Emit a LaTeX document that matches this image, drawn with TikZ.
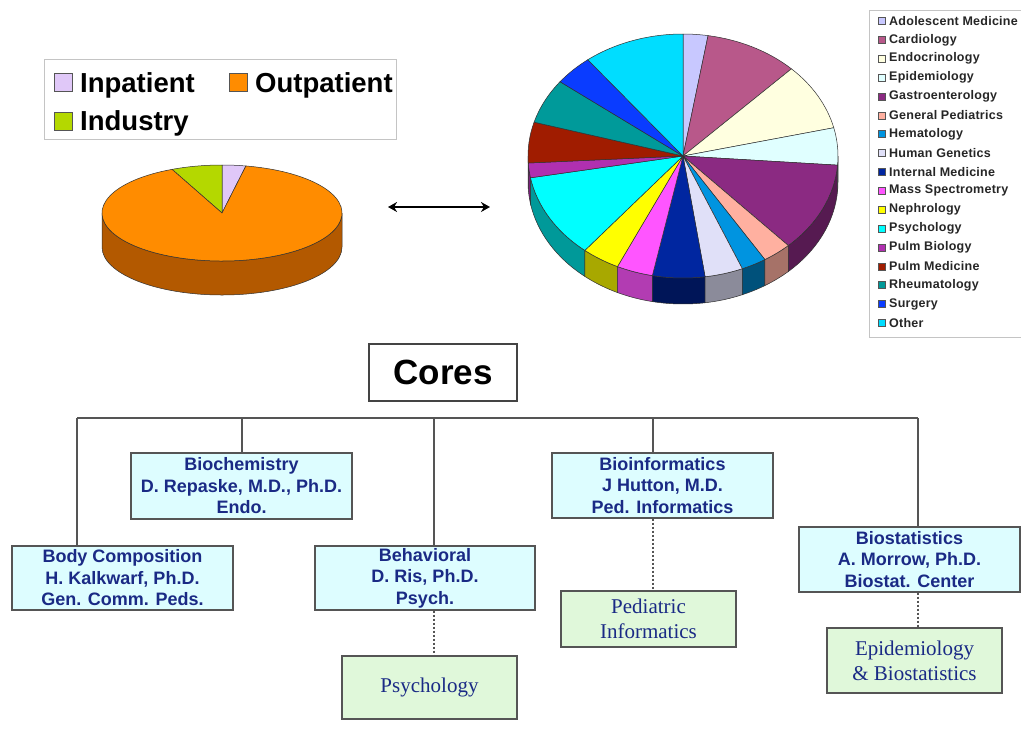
\documentclass[tikz,border=0pt]{standalone}
\usepackage{fontspec}
\setmainfont{Liberation Sans}
\newfontfamily\serf{Liberation Serif}
\newfontfamily\legf[LetterSpace=2]{Liberation Sans}
\usetikzlibrary{arrows.meta}
\definecolor{navy}{HTML}{1A2A85}
\definecolor{boxcyan}{HTML}{DDFDFF}
\definecolor{boxgreen}{HTML}{E0F8DA}
\definecolor{lineg}{HTML}{555555}
\definecolor{legb}{HTML}{C4C4C4}
\definecolor{pieline}{HTML}{303030}
\definecolor{inpat}{HTML}{E0C8F8}
\definecolor{outpat}{HTML}{FF8C00}
\definecolor{outside}{HTML}{B35900}
\definecolor{indus}{HTML}{B4D800}
\definecolor{cAdol}{HTML}{C8C8FF}
\definecolor{cCard}{HTML}{B8588A}
\definecolor{cEndo}{HTML}{FFFFE0}
\definecolor{cEpid}{HTML}{E0FFFF}
\definecolor{cGast}{HTML}{8B2A82}
\definecolor{cGenP}{HTML}{FFB0A0}
\definecolor{cHema}{HTML}{0094E0}
\definecolor{cHumG}{HTML}{E0E0F8}
\definecolor{cInte}{HTML}{0026A0}
\definecolor{cMass}{HTML}{FF55FF}
\definecolor{cNeph}{HTML}{FFFF00}
\definecolor{cPsyc}{HTML}{00FFFF}
\definecolor{cPBio}{HTML}{B030B0}
\definecolor{cPMed}{HTML}{A01C00}
\definecolor{cRheu}{HTML}{009A9A}
\definecolor{cSurg}{HTML}{0A3CFF}
\definecolor{cOthe}{HTML}{00DDFF}
\newcommand{\prx}{155}
\newcommand{\pry}{122}
\newcommand{\pdep}{26}
\newcommand{\slicetop}[3]{%
  \filldraw[fill=#3, draw=pieline, line width=0.5] (0,0) -- (#1:\prx\space and \pry) arc[start angle=#1, end angle=#2, x radius=\prx, y radius=\pry] -- cycle;}
\newcommand{\sliceside}[3]{%
  \filldraw[fill=#3, draw=pieline, line width=0.5] (#1:\prx\space and \pry) arc[start angle=#1, end angle=#2, x radius=\prx, y radius=\pry] -- ++(0,-\pdep) arc[start angle=#2, end angle=#1, x radius=\prx, y radius=\pry] -- cycle;}
\begin{document}
\begin{tikzpicture}[x=1pt,y=-1pt,
  core/.style={draw=lineg, line width=1.2, fill=boxcyan, text=navy, font=\bfseries\fontsize{18}{21.5}\selectfont, align=center, inner sep=0},
  grp/.style={draw=lineg, line width=1.2, fill=boxgreen, text=navy, font=\serf\fontsize{21}{25}\selectfont, align=center, inner sep=0},
  bus/.style={draw=lineg, line width=1.3},
  dots/.style={draw=lineg, line width=1.3, dash pattern=on 2pt off 2pt},
  sq/.style={draw=lineg, line width=0.6, inner sep=0, minimum size=18},
  rsq/.style={draw=lineg, line width=0.5, inner sep=0, minimum size=7},
  bigleg/.style={anchor=base west, inner sep=0, font=\bfseries\fontsize{27.5}{30}\selectfont},
  smallleg/.style={anchor=west, inner sep=0, text=black!85, font=\legf\bfseries\fontsize{12.5}{14}\selectfont}]
\useasboundingbox (0,0) rectangle (1021,729);
\fill[white] (0,0) rectangle (1021,729);

% left legend
\draw[legb, line width=1] (44,59) rectangle (396,139);
\node[sq, fill=inpat] (sqin) at (63,82) {};
\node[bigleg] (tin) at (80,92) {Inpatient};
\node[sq, fill=outpat] (sqout) at (238,82) {};
\node[bigleg] (tout) at (255,92) {Outpatient};
\node[sq, fill=indus] (sqind) at (63,121.5) {};
\node[bigleg] (tind) at (80,130) {Industry};

% left pie
\begin{scope}[shift={(222,213)}, yscale=-1]
  \renewcommand{\prx}{120}\renewcommand{\pry}{48}\renewcommand{\pdep}{34}
  \sliceside{180}{360}{outside}
  \slicetop{78.5}{90}{inpat}
  \slicetop{90}{114.6}{indus}
  \slicetop{114.6}{438.5}{outpat}
\end{scope}

% double arrow
\coordinate (al) at (388,207);
\coordinate (ar) at (490,207);
\draw[{Stealth[length=9pt,width=10pt]}-{Stealth[length=9pt,width=10pt]}, line width=1.5] (al) -- (ar);

% right pie
\begin{scope}[shift={(683,156)}, yscale=-1]
  \sliceside{180}{183.3}{cPMed!70!black}
  \sliceside{183.3}{190.3}{cPBio!70!black}
  \sliceside{190.3}{230.7}{cPsyc!60!black!90!cRheu}
  \sliceside{230.7}{245}{cNeph!66!black}
  \sliceside{245}{258.6}{cMass!70!black}
  \sliceside{258.6}{278.2}{cInte!55!black}
  \sliceside{278.2}{292.5}{cHumG!62!black}
  \sliceside{292.5}{301.9}{cHema!55!black}
  \sliceside{301.9}{312.8}{cGenP!65!black}
  \sliceside{312.8}{355.7}{cGast!62!black}
  \sliceside{355.7}{360}{cEpid!65!black}
  \slicetop{80.7}{90}{cAdol}
  \slicetop{45.6}{80.7}{cCard}
  \slicetop{13.4}{45.6}{cEndo}
  \slicetop{-4.3}{13.4}{cEpid}
  \slicetop{312.8}{355.7}{cGast}
  \slicetop{301.9}{312.8}{cGenP}
  \slicetop{292.5}{301.9}{cHema}
  \slicetop{278.2}{292.5}{cHumG}
  \slicetop{258.6}{278.2}{cInte}
  \slicetop{245}{258.6}{cMass}
  \slicetop{230.7}{245}{cNeph}
  \slicetop{190.3}{230.7}{cPsyc}
  \slicetop{183.3}{190.3}{cPBio}
  \slicetop{163.9}{183.3}{cPMed}
  \slicetop{142.5}{163.9}{cRheu}
  \slicetop{127.9}{142.5}{cSurg}
  \slicetop{90}{127.9}{cOthe}
\end{scope}

% right legend
\draw[legb, line width=1] (1021,10) -- (869,10) -- (869,337) -- (1021,337);
\foreach \col/\txt [count=\i from 0] in {cAdol/Adolescent Medicine, cCard/Cardiology, cEndo/Endocrinology, cEpid/Epidemiology, cGast/Gastroenterology, cGenP/General Pediatrics, cHema/Hematology, cHumG/Human Genetics, cInte/Internal Medicine, cMass/Mass Spectrometry, cNeph/Nephrology, cPsyc/Psychology, cPBio/Pulm Biology, cPMed/Pulm Medicine, cRheu/Rheumatology, cSurg/Surgery, cOthe/Other}{
  \node[rsq, fill=\col] (rs\i) at (881.5,{21+\i*18.87}) {};
  \node[smallleg] (rt\i) at (889,{21+\i*18.87}) {\txt};
}

% cores
\node[draw=lineg!80!black, line width=1.2, fill=white, minimum width=148, minimum height=57, inner sep=0, font=\bfseries\fontsize{35}{40}\selectfont] (cores) at (443,372.5) {Cores};

\node[core, minimum width=221, minimum height=66] (bioc) at (241.5,486) {Biochemistry\\D. Repaske, M.D., Ph.D.\\Endo.};
\node[core, minimum width=221, minimum height=64] (body) at (122.5,578) {Body Composition\\H. Kalkwarf, Ph.D.\\Gen. Comm. Peds.};
\node[core, minimum width=220, minimum height=64] (beh) at (425,578) {Behavioral\\D. Ris, Ph.D.\\Psych.};
\node[core, minimum width=221, minimum height=65] (binf) at (662.5,485.5) {Bioinformatics\\J Hutton, M.D.\\Ped. Informatics};
\node[core, minimum width=221, minimum height=65] (bst) at (909.5,559.5) {Biostatistics\\A. Morrow, Ph.D.\\Biostat. Center};
\node[grp, minimum width=175, minimum height=56] (pinf) at (648.5,619) {Pediatric\\Informatics};
\node[grp, minimum width=175, minimum height=65] (epi) at (914.5,660.5) {Epidemiology\\\& Biostatistics};
\node[grp, minimum width=175, minimum height=63] (psy) at (429.5,687.5) {Psychology};

% bus
\coordinate (b1) at (77,418);
\coordinate (b2) at (242,418);
\coordinate (b3) at (434,418);
\coordinate (b4) at (653,418);
\coordinate (b5) at (918,418);
\draw[bus] (b1) -- (b5);
\draw[bus] (b1) -- (body.north -| b1);
\draw[bus] (b2) -- (bioc.north -| b2);
\draw[bus] (b3) -- (beh.north -| b3);
\draw[bus] (b4) -- (binf.north -| b4);
\draw[bus] (b5) -- (bst.north -| b5);
\draw[dots] (beh.south -| b3) -- (psy.north -| b3);
\draw[dots] (binf.south -| b4) -- (pinf.north -| b4);
\draw[dots] (bst.south -| b5) -- (epi.north -| b5);
\end{tikzpicture}
\end{document}
